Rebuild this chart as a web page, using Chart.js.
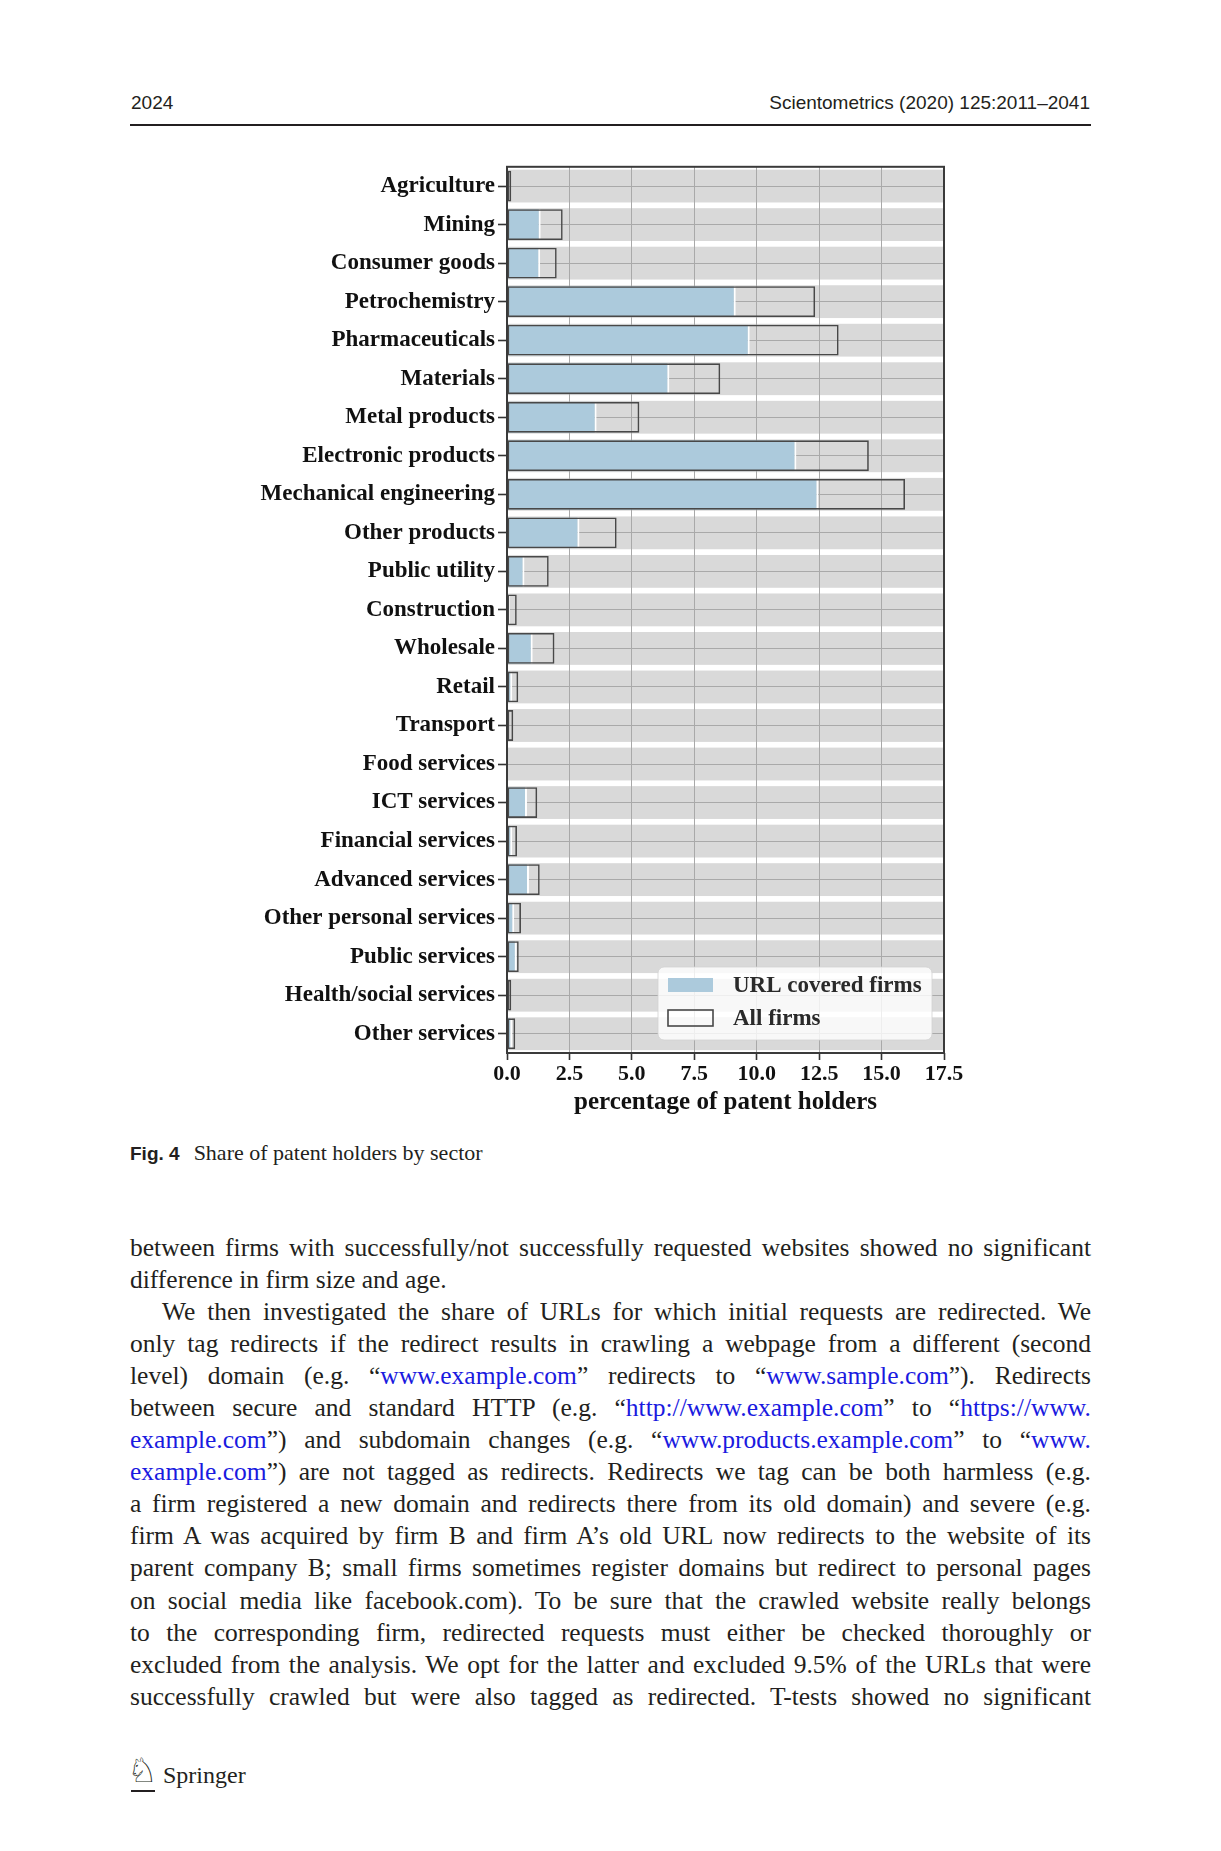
<!DOCTYPE html>
<html><head><meta charset="utf-8">
<script src="https://cdn.jsdelivr.net/npm/chart.js@4.4.1/dist/chart.umd.min.js"></script>
<style>
html,body{margin:0;padding:0;background:#fff;}
body{width:1221px;height:1851px;position:relative;overflow:hidden;color:#231f20;}
.abs{position:absolute;}
#hdrL{left:131px;top:92px;font:19px "Liberation Sans",Arial,sans-serif;line-height:22px;}
#hdrR{right:131px;top:92px;font:19px "Liberation Sans",Arial,sans-serif;line-height:22px;text-align:right;}
#rule{left:130px;top:124px;width:961px;height:2px;background:#231f20;}
#chartBox{left:200px;top:150px;width:780px;height:972px;}
#caption{left:130px;top:1140px;line-height:26px;white-space:nowrap;}
#caption b{font:bold 19px "Liberation Sans",Arial,sans-serif;margin-right:14px;}
#caption span{font:22px "Liberation Serif","Times New Roman",serif;}
#body{left:130px;top:1232px;width:961px;font:25.5px "Liberation Serif","Times New Roman",serif;line-height:32.05px;}
#body div{text-align:justify;text-align-last:justify;}
#body div.last{text-align-last:left;}
#body div.ind{text-indent:32px;}
#body a{color:#1a1ae0;text-decoration:none;}
#logo{left:127px;top:1752px;font:34px "DejaVu Sans",sans-serif;line-height:36px;}
#logoBar{left:131px;top:1790px;width:24px;height:2px;background:#231f20;}
#springer{left:163px;top:1761px;font:24px "Liberation Serif","Times New Roman",serif;line-height:28px;}
</style>
</head>
<body>
<div id="hdrL" class="abs">2024</div>
<div id="hdrR" class="abs">Scientometrics (2020) 125:2011–2041</div>
<div id="rule" class="abs"></div>
<div id="chartBox" class="abs"><canvas id="c" width="780" height="972" style="width:780px;height:972px"></canvas></div>
<div id="caption" class="abs"><b>Fig. 4</b><span>Share of patent holders by sector</span></div>
<div id="body" class="abs">
<div>between firms with successfully/not successfully requested websites showed no significant</div>
<div class="last">difference in firm size and age.</div>
<div class="ind">We then investigated the share of URLs for which initial requests are redirected. We</div>
<div>only tag redirects if the redirect results in crawling a webpage from a different (second</div>
<div>level) domain (e.g. “<a>www.example.com</a>” redirects to “<a>www.sample.com</a>”). Redirects</div>
<div>between secure and standard HTTP (e.g. “<a>http://www.example.com</a>” to “<a>https://www.</a></div>
<div><a>example.com</a>”) and subdomain changes (e.g. “<a>www.products.example.com</a>” to “<a>www.</a></div>
<div><a>example.com</a>”) are not tagged as redirects. Redirects we tag can be both harmless (e.g.</div>
<div>a firm registered a new domain and redirects there from its old domain) and severe (e.g.</div>
<div>firm A was acquired by firm B and firm A’s old URL now redirects to the website of its</div>
<div>parent company B; small firms sometimes register domains but redirect to personal pages</div>
<div>on social media like facebook.com). To be sure that the crawled website really belongs</div>
<div>to the corresponding firm, redirected requests must either be checked thoroughly or</div>
<div>excluded from the analysis. We opt for the latter and excluded 9.5% of the URLs that were</div>
<div>successfully crawled but were also tagged as redirected. T-tests showed no significant</div>
</div>
<div id="logo" class="abs">♘</div>
<div id="logoBar" class="abs"></div>
<div id="springer" class="abs">Springer</div>

<script>
const categories = ["Agriculture","Mining","Consumer goods","Petrochemistry","Pharmaceuticals","Materials","Metal products","Electronic products","Mechanical engineering","Other products","Public utility","Construction","Wholesale","Retail","Transport","Food services","ICT services","Financial services","Advanced services","Other personal services","Public services","Health/social services","Other services"];
const urlCovered = [0.06,1.35,1.33,9.16,9.72,6.50,3.59,11.59,12.47,2.90,0.70,0.12,1.03,0.21,0.07,0.02,0.80,0.21,0.88,0.29,0.39,0.07,0.21];
const allFirms   = [0.17,2.23,1.99,12.34,13.28,8.54,5.30,14.49,15.94,4.39,1.67,0.39,1.90,0.45,0.25,0.04,1.21,0.40,1.31,0.56,0.47,0.17,0.33];
const xTicks = [0,2.5,5,7.5,10,12.5,15,17.5];
const seriesLabels = ["URL covered firms","All firms"];

const SERIF = "'Liberation Serif','Times New Roman',serif";
const BLUE = '#accadc';
const OUTLINE = '#484848';

const bandPlugin = {
  id: 'bands',
  beforeDraw(chart) {
    const {ctx, chartArea: a, scales: {y}} = chart;
    const pitch = Math.abs(y.getPixelForValue(1) - y.getPixelForValue(0));
    const h = pitch * 0.8 + 2;
    ctx.save();
    ctx.fillStyle = '#d9d9d9';
    categories.forEach((c, i) => {
      const cy = y.getPixelForValue(i);
      ctx.fillRect(a.left, cy - h / 2, a.right - a.left, h);
    });
    ctx.restore();
  },
  afterDatasetsDraw(chart) {
    const {ctx, chartArea: a} = chart;
    ctx.save();
    ctx.strokeStyle = '#3a3a3a';
    ctx.lineWidth = 2;
    ctx.strokeRect(a.left, a.top, a.right - a.left, a.bottom - a.top);
    const bw = 274, bh = 73;
    const bx = a.right - 12 - bw, by = a.bottom - 13 - bh;
    ctx.fillStyle = 'rgba(255,255,255,0.8)';
    ctx.strokeStyle = 'rgba(210,210,210,0.8)';
    ctx.lineWidth = 1;
    ctx.beginPath();
    ctx.roundRect(bx, by, bw, bh, 6);
    ctx.fill();
    ctx.stroke();
    ctx.fillStyle = BLUE;
    ctx.fillRect(bx + 10, by + 11, 45, 14);
    ctx.strokeStyle = OUTLINE;
    ctx.lineWidth = 1.6;
    ctx.strokeRect(bx + 10, by + 43, 45, 16);
    ctx.fillStyle = '#2a2a2a';
    ctx.font = 'bold 23px ' + SERIF;
    ctx.textBaseline = 'middle';
    ctx.textAlign = 'left';
    ctx.fillText(seriesLabels[0], bx + 75, by + 19);
    ctx.fillText(seriesLabels[1], bx + 75, by + 52);
    ctx.restore();
  }
};

new Chart(document.getElementById('c'), {
  type: 'bar',
  data: {
    labels: categories,
    datasets: [
      {
        label: seriesLabels[1],
        data: allFirms,
        backgroundColor: 'rgba(0,0,0,0)',
        borderColor: OUTLINE,
        borderWidth: 1.6,
        borderSkipped: false,
        grouped: false,
        order: 0,
        categoryPercentage: 1,
        barPercentage: 0.8
      },
      {
        label: seriesLabels[0],
        data: urlCovered,
        backgroundColor: BLUE,
        borderColor: '#ffffff',
        borderWidth: {left: 0, top: 0, bottom: 0, right: 2},
        borderSkipped: 'start',
        grouped: false,
        order: 1,
        categoryPercentage: 1,
        barPercentage: 0.8
      }
    ]
  },
  options: {
    indexAxis: 'y',
    responsive: false,
    animation: false,
    layout: {padding: {top: 12, right: 36, bottom: 0, left: 0}},
    plugins: {legend: {display: false}, tooltip: {enabled: false}},
    scales: {
      x: {
        type: 'linear',
        min: 0, max: 17.5,
        afterBuildTicks: s => { s.ticks = xTicks.map(v => ({value: v})); },
        afterFit: s => { s.height = 69; },
        border: {display: false},
        grid: {color: '#a9a9a9', lineWidth: 1, borderDash: [5, 4], tickColor: '#333', tickWidth: 1.6, tickLength: 7, tickBorderDash: []},
        ticks: {color: '#111', padding: 1, font: {family: SERIF, weight: 'bold', size: 22}, callback: v => Number(v).toFixed(1), maxRotation: 0, autoSkip: false},
        title: {display: true, text: 'percentage of patent holders', color: '#111', font: {family: SERIF, weight: 'bold', size: 25}, padding: {top: 0, bottom: 4}}
      },
      y: {
        type: 'category',
        offset: true,
        afterFit: s => { s.width = 307; },
        border: {display: false},
        grid: {offset: false, color: '#a9a9a9', lineWidth: 1, borderDash: [5, 4], tickColor: '#333', tickWidth: 1.6, tickLength: 9, tickBorderDash: []},
        ticks: {color: '#111', padding: 3, font: {family: SERIF, weight: 'bold', size: 23}, autoSkip: false}
      }
    }
  },
  plugins: [bandPlugin]
});
</script>
</body></html>
